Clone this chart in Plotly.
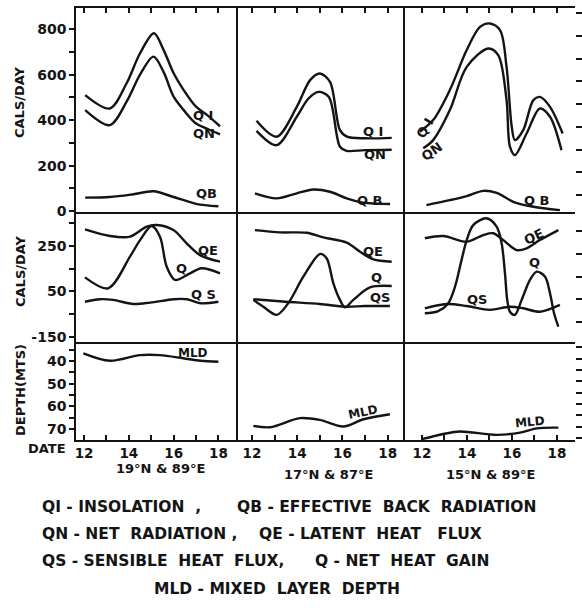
import plotly.graph_objects as go
from plotly.subplots import make_subplots

# ---------------- data ----------------
# Column 1 : 19N & 89E
c1_qi_x = [12.05, 13.15, 13.9, 14.5, 15.12, 15.55, 16.0, 16.45, 17.0, 17.5, 18.07]
c1_qi_y = [510, 451, 562, 694, 782, 709, 606, 532, 459, 422, 373]
c1_qn_x = [12.05, 13.15, 13.9, 14.5, 15.1, 15.55, 16.0, 16.45, 17.0, 17.5, 18.07]
c1_qn_y = [444, 378, 481, 600, 679, 612, 503, 444, 385, 362, 337]
c1_qb_x = [12.05, 13.15, 14.2, 15.1, 16.0, 17.0, 18.0]
c1_qb_y = [59, 62, 74, 87, 62, 32, 21]
c1_qe_x = [12.04, 13.16, 14.05, 14.8, 15.24, 15.99, 16.58, 17.18, 18.07]
c1_qe_y = [323, 294, 291, 335, 342, 320, 262, 210, 181]
c1_q_x = [12.04, 13.08, 14.05, 14.5, 15.02, 15.39, 15.69, 16.06, 16.73, 17.25, 18.07]
c1_q_y = [112, 64, 203, 276, 338, 291, 159, 101, 130, 152, 130]
c1_qs_x = [12.04, 12.7, 13.3, 14.2, 14.95, 16.0, 16.6, 17.2, 18.0]
c1_qs_y = [5, 16, 13, -5, 1, 16, 16, -2, 5]
c1_mld_x = [11.97, 13.16, 14.5, 15.39, 16.43, 17.2, 18.0]
c1_mld_y = [36.6, 39.9, 37.4, 37.4, 38.8, 39.9, 40.3]

# Column 2 : 17N & 87E
c2_qi_x = [12.2, 13.09, 13.98, 14.57, 15.0, 15.45, 15.89, 16.2, 17.0, 18.18]
c2_qi_y = [397, 327, 458, 576, 605, 568, 356, 327, 320, 322]
c2_qn_x = [12.2, 13.09, 13.98, 14.49, 14.94, 15.4, 15.89, 16.18, 17.0, 18.18]
c2_qn_y = [353, 290, 415, 494, 524, 502, 283, 265, 268, 270]
c2_qb_x = [12.13, 13.09, 13.98, 14.71, 15.45, 16.19, 16.93, 18.11]
c2_qb_y = [78, 56, 78, 95, 85, 56, 37, 31]
c2_qe_x = [12.13, 13.24, 14.42, 15.15, 16.19, 16.78, 17.37, 18.18]
c2_qe_y = [320, 310, 308, 288, 265, 225, 191, 181]
c2_q_x = [12.06, 12.5, 13.09, 13.6, 14.27, 15.01, 15.3, 15.6, 15.89, 16.11, 16.48, 17.22, 18.18]
c2_q_y = [13, -17, -53, -2, 115, 215, 196, 86, 13, -20, 13, 68, 74]
c2_qs_x = [12.06, 13.5, 15.0, 16.11, 17.0, 18.1]
c2_qs_y = [16, 5, -5, -17, -14, -14]
c2_mld_x = [12.06, 12.8, 14.12, 15.0, 16.04, 16.93, 18.1]
c2_mld_y = [68.6, 69.2, 65.2, 66.0, 68.9, 65.7, 63.5]

# Column 3 : 15N & 89E
c3_qi_x = [11.91, 12.5, 13.24, 13.99, 14.58, 15.02, 15.47, 15.76, 15.99, 16.13, 16.5, 16.95, 17.24, 17.69, 18.25]
c3_qi_y = [349, 400, 532, 708, 810, 825, 796, 634, 371, 312, 356, 488, 502, 458, 341]
c3_qn_x = [12.06, 12.5, 13.24, 13.99, 14.95, 15.39, 15.76, 15.91, 16.13, 16.65, 17.24, 17.69, 18.2]
c3_qn_y = [276, 312, 444, 634, 715, 686, 488, 283, 246, 341, 451, 415, 268]
c3_qb_x = [12.2, 13.24, 13.99, 14.73, 15.32, 16.06, 16.95, 18.13]
c3_qb_y = [26, 48, 66, 89, 80, 41, 19, 4]
c3_qe_x = [12.13, 12.95, 13.99, 14.72, 15.17, 15.61, 16.21, 16.65, 17.24, 18.06]
c3_qe_y = [284, 294, 269, 298, 306, 276, 232, 240, 276, 320]
c3_q_x = [12.13, 12.7, 13.15, 13.47, 13.76, 13.99, 14.28, 14.87, 15.32, 15.54, 15.69, 15.79,
          15.91, 16.13, 16.43, 16.8, 17.1, 17.47, 17.69, 17.87, 18.06]
c3_q_y = [-46, -38, -5, 71, 188, 276, 342, 372, 335, 262, 130, 13, -39, -53, 13, 101, 137, 115, 42, -46, -105]
c3_qs_x = [12.13, 13.1, 13.99, 15.02, 15.91, 16.5, 17.24, 18.13]
c3_qs_y = [-24, -5, -14, -31, -17, -24, -39, -9]
c3_mld_x = [11.99, 12.95, 13.69, 15.32, 16.36, 17.1, 18.06]
c3_mld_y = [74.5, 72.2, 71.1, 72.6, 71.6, 69.7, 69.4]

column_labels = ["19°N & 89°E", "17°N & 87°E", "15°N & 89°E"]
date_ticks = [12, 13, 14, 15, 16, 17, 18]
date_text = ["12", "", "14", "", "16", "", "18"]
cal_ticks = [0, 100, 200, 300, 400, 500, 600, 700, 800]
cal_text = ["0", "", "200", "", "400", "", "600", "", "800"]
flux_ticks = [-150, -50, 50, 150, 250, 350]
flux_text = ["-150", "", "50", "", "250", ""]
depth_ticks = [35, 40, 45, 50, 55, 60, 65, 70]
depth_text = ["", "40", "", "50", "", "60", "", "70"]

legend_lines = [
    ("QI - INSOLATION  ,", "QB - EFFECTIVE  BACK  RADIATION"),
    ("QN - NET  RADIATION ,", "QE - LATENT  HEAT   FLUX"),
    ("QS - SENSIBLE  HEAT  FLUX,", "Q - NET  HEAT  GAIN"),
]
legend_last = "MLD - MIXED  LAYER  DEPTH"

# ---------------- geometry ----------------
W, H = 582, 608
L, R, T, B = 76, 7, 8, 168
PW, PH = W - L - R, H - T - B


def px(x):
    return (x - L) / PW


def py(y):
    return (H - B - y) / PH


FONT = "DejaVu Sans"
INK = "#141414"

fig = make_subplots(rows=3, cols=3, column_widths=[162, 165, 172], row_heights=[204, 132, 96],
                    horizontal_spacing=0, vertical_spacing=0)

series = {
    1: [(c1_qi_x, c1_qi_y), (c1_qn_x, c1_qn_y), (c1_qb_x, c1_qb_y)],
    2: [(c2_qi_x, c2_qi_y), (c2_qn_x, c2_qn_y), (c2_qb_x, c2_qb_y)],
    3: [(c3_qi_x, c3_qi_y), (c3_qn_x, c3_qn_y), (c3_qb_x, c3_qb_y)],
}
series2 = {
    1: [(c1_qe_x, c1_qe_y), (c1_q_x, c1_q_y), (c1_qs_x, c1_qs_y)],
    2: [(c2_qe_x, c2_qe_y), (c2_q_x, c2_q_y), (c2_qs_x, c2_qs_y)],
    3: [(c3_qe_x, c3_qe_y), (c3_q_x, c3_q_y), (c3_qs_x, c3_qs_y)],
}
series3 = {1: (c1_mld_x, c1_mld_y), 2: (c2_mld_x, c2_mld_y), 3: (c3_mld_x, c3_mld_y)}

line = dict(color=INK, width=2.4, shape="spline", smoothing=0.9)
for c in (1, 2, 3):
    for xs, ys in series[c]:
        fig.add_trace(go.Scatter(x=xs, y=ys, mode="lines", line=line, showlegend=False, hoverinfo="skip"), row=1, col=c)
    for xs, ys in series2[c]:
        fig.add_trace(go.Scatter(x=xs, y=ys, mode="lines", line=line, showlegend=False, hoverinfo="skip"), row=2, col=c)
    xs, ys = series3[c]
    fig.add_trace(go.Scatter(x=xs, y=ys, mode="lines", line=line, showlegend=False, hoverinfo="skip"), row=3, col=c)

xranges = {1: [11.64, 18.875], 2: [11.38, 18.68], 3: [11.16, 18.8]}
yranges = {1: [-4, 893], 2: [-181, 399.5], 3: [74.85, 32.5]}
ytickfont = dict(family=FONT, size=14, color=INK, weight="bold")
xtickfont = dict(family=FONT, size=13.5, color=INK, weight="bold")
LW = 1.6

for r in (1, 2, 3):
    for c in (1, 2, 3):
        xa = dict(range=xranges[c], showgrid=False, zeroline=False, automargin=False)
        if r == 1:
            xa.update(showline=True, linecolor=INK, linewidth=LW, mirror=True,
                      side="top", ticks="inside", ticklen=5, tickwidth=1.5, tickcolor=INK,
                      tickvals=date_ticks, showticklabels=False)
        elif r == 2:
            xa.update(showline=False, ticks="", showticklabels=False)
        else:
            xa.update(showline=True, linecolor=INK, linewidth=LW, mirror=True,
                      side="bottom", ticks="inside", ticklen=5, tickwidth=1.5, tickcolor=INK,
                      tickvals=date_ticks, ticktext=date_text, tickfont=xtickfont)
        fig.update_xaxes(row=r, col=c, **xa)

        ya = dict(range=yranges[r], showgrid=False, zeroline=False, automargin=False)
        if c == 1:
            ya.update(showline=True, linecolor=INK, linewidth=LW, mirror=False, side="left",
                      ticks="outside", ticklen=5, tickwidth=1.5, tickcolor=INK, tickfont=ytickfont)
            if r == 1:
                ya.update(tickvals=cal_ticks, ticktext=cal_text)
            elif r == 2:
                ya.update(tickvals=flux_ticks, ticktext=flux_text)
            else:
                ya.update(tickvals=depth_ticks, ticktext=depth_text)
        elif c == 2:
            ya.update(showline=True, linecolor=INK, linewidth=LW, mirror=True, ticks="",
                      showticklabels=False)
        else:
            ya.update(showline=False, side="right", ticks="outside", ticklen=6, tickwidth=1.5,
                      tickcolor=INK, showticklabels=False)
            if r == 1:
                ya.update(tick0=70, dtick=100)
            elif r == 2:
                ya.update(tick0=15, dtick=100)
            else:
                ya.update(tick0=39, dtick=5)
        fig.update_yaxes(row=r, col=c, **ya)

ann = []
lab = dict(family=FONT, size=13, color=INK)


def curve_label(text, x, y, xr, yr, angle=0, size=13):
    ann.append(dict(text="<b>%s</b>" % text, x=x, y=y, xref=xr, yref=yr, showarrow=False,
                    xanchor="center", yanchor="middle",
                    textangle=angle, font=dict(family=FONT, size=size, color=INK)))


def paper_text(text, xx, yy, font, angle=0, xanchor="center"):
    ann.append(dict(text="<b>%s</b>" % text, x=px(xx), y=py(yy), xref="paper", yref="paper",
                    xanchor=xanchor, yanchor="middle", showarrow=False, textangle=angle, font=font))


# row 1 labels
curve_label("Q I", 17.3, 422, "x", "y")
curve_label("QN", 17.35, 343, "x", "y")
curve_label("QB", 17.45, 79, "x", "y")
curve_label("Q I", 17.37, 349, "x2", "y2")
curve_label("QN", 17.44, 251, "x2", "y2")
curve_label("Q B", 17.22, 48, "x2", "y2")
curve_label("Q I", 12.13, 363, "x3", "y3", angle=-60)
curve_label("QN", 12.45, 261, "x3", "y3", angle=-35)
curve_label("Q B", 17.1, 48, "x3", "y3")
# row 2 labels
curve_label("QE", 17.55, 229, "x4", "y4")
curve_label("Q", 16.36, 152, "x4", "y4")
curve_label("Q S", 17.33, 35, "x4", "y4")
curve_label("QE", 17.37, 225, "x5", "y5")
curve_label("Q", 17.52, 110, "x5", "y5")
curve_label("QS", 17.66, 22, "x5", "y5")
curve_label("QE", 17.0, 291, "x6", "y6", angle=-25)
curve_label("Q", 17.02, 176, "x6", "y6")
curve_label("QS", 14.43, 13, "x6", "y6")
# row 3 labels
curve_label("MLD", 16.88, 36.6, "x7", "y7", size=12)
curve_label("MLD", 16.93, 62.3, "x8", "y8", angle=-12, size=12)
curve_label("MLD", 16.8, 66.7, "x9", "y9", angle=-5, size=12)

# axis titles
for text, xx, yy in [("CALS/DAY", 20, 102), ("CALS/DAY", 20, 271), ("DEPTH(MTS)", 20, 390)]:
    paper_text(text, xx, yy, lab, angle=-90)
paper_text("DATE", 47, 448, lab)
for text, xx, yy in zip(column_labels, [160, 328, 490], [469, 474, 474]):
    paper_text(text, xx, yy, lab)

# legend text
leg_font = dict(family=FONT, size=15.5, color=INK)
rows_y = [507, 534, 561]
right_x = [235, 257, 313]
for (lt, rt), yy, rx in zip(legend_lines, rows_y, right_x):
    paper_text(lt, 40, yy, leg_font, xanchor="left")
    paper_text(rt, rx, yy, leg_font, xanchor="left")
paper_text(legend_last, 152, 589, leg_font, xanchor="left")

fig.update_layout(width=W, height=H, margin=dict(l=L, r=R, t=T, b=B), plot_bgcolor="white",
                  paper_bgcolor="white", annotations=ann, showlegend=False)

fig.write_html("out.html", config={"displayModeBar": False},
               post_script="document.body.style.margin='0';document.body.style.overflow='hidden';")
